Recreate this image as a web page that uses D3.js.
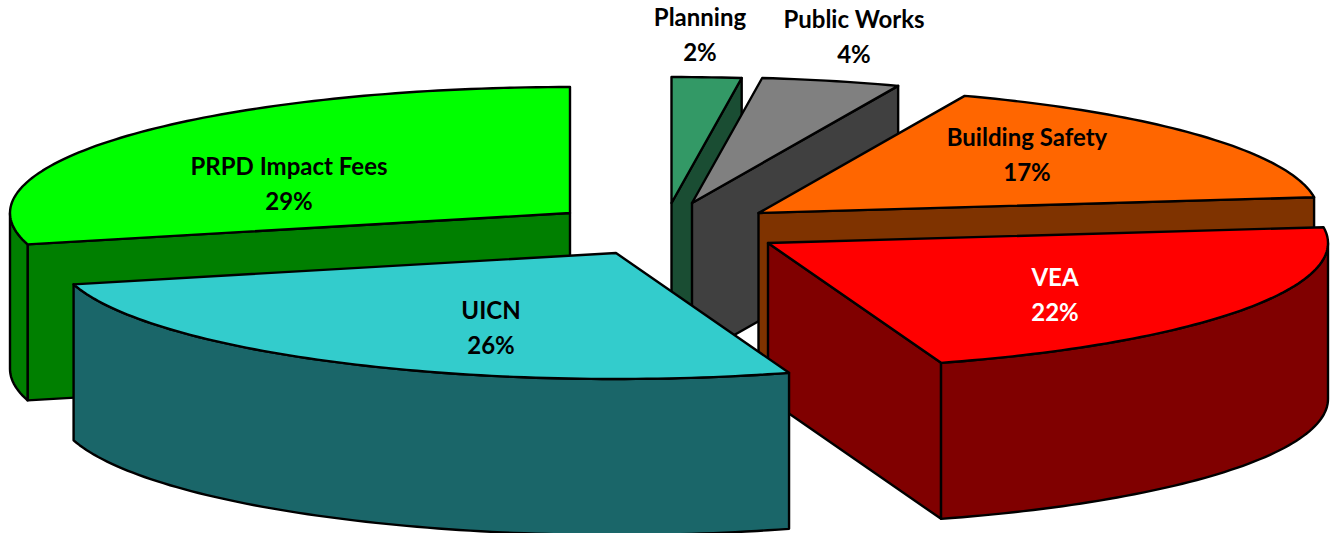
<!DOCTYPE html>
<html>
<head>
<meta charset="utf-8">
<script src="https://cdn.jsdelivr.net/npm/d3@7"></script>
<style>
  html, body { margin: 0; padding: 0; background: #fff; }
  svg { display: block; }
  text { font-family: Lato, "Open Sans", sans-serif; font-weight: 700; font-size: 24px; }
</style>
</head>
<body>
<svg id="chart" width="1333" height="533"></svg>
<script>
// Budget shares, in clockwise order from twelve o'clock
const categories = ["Planning", "Public Works", "Building Safety", "VEA", "UICN", "PRPD Impact Fees"];
const shares = [2, 4, 17, 22, 26, 29];

const topColors = ["#339966", "#808080", "#FF6600", "#FF0000", "#33CCCC", "#00FF00"];
const sideColors = ["#1A4D33", "#404040", "#7F3300", "#800000", "#1A6669", "#007F00"];
const labelColors = ["#000", "#000", "#000", "#fff", "#000", "#000"];

// Where each exploded wedge has its point on the page, and where its label sits
const apexX = [671.5, 692, 758.5, 768, 616, 570];
const apexY = [203, 203, 213, 243, 253, 213];
const labelX = [700, 854, 1027, 1055, 491, 289];
const labelY = [26, 28, 146, 286, 319, 175];

// Painting order: rear wedges first, front wedges over them
const paintOrder = [0, 1, 2, 5, 3, 4];

const RX = 560, RY = 126, DEPTH = 156;
const LINE_GAP = 34.5;

const svg = d3.select("#chart");

const wedges = d3.pie().sort(null).value(d => d)(shares);

const sx = d3.scaleLinear().domain([-1, 1]).range([-RX, RX]);
const sy = d3.scaleLinear().domain([-1, 1]).range([-RY, RY]);
const line = d3.line();

const rimPoint = (i, a, drop = 0) => [
  apexX[i] + sx(Math.sin(a)),
  apexY[i] + sy(-Math.cos(a)) + drop
];

function rim(i, a0, a1, drop = 0) {
  const n = Math.max(2, Math.ceil((a1 - a0) / 0.02));
  return d3.range(n + 1).map(k => rimPoint(i, a0 + (a1 - a0) * k / n, drop));
}

const FRONT_START = Math.PI / 2, FRONT_END = Math.PI * 1.5;

function drawFace(points, fill) {
  svg.append("path")
    .attr("d", line(points) + "Z")
    .attr("fill", fill)
    .attr("stroke", "#000")
    .attr("stroke-width", 2.4)
    .attr("stroke-linejoin", "round");
}

function drawRadialWall(i, a) {
  const top = [apexX[i], apexY[i]];
  const outer = rimPoint(i, a);
  drawFace([
    top, outer,
    [outer[0], outer[1] + DEPTH],
    [top[0], top[1] + DEPTH]
  ], sideColors[i]);
}

paintOrder.forEach(i => {
  const { startAngle: a0, endAngle: a1 } = wedges[i];

  // Cut faces that turn towards the viewer
  if (a1 < Math.PI) drawRadialWall(i, a1);
  if (a0 > Math.PI) drawRadialWall(i, a0);

  // Curved outer wall along the front half of the rim
  const f0 = Math.max(a0, FRONT_START), f1 = Math.min(a1, FRONT_END);
  if (f1 > f0) {
    drawFace(rim(i, f0, f1).concat(rim(i, f0, f1, DEPTH).reverse()), sideColors[i]);
  }

  // Top face
  drawFace([[apexX[i], apexY[i]]].concat(rim(i, a0, a1)), topColors[i]);
});

// Two-line labels: category name over its share
categories.forEach((name, i) => {
  const g = svg.append("g").attr("text-anchor", "middle").attr("fill", labelColors[i]);
  g.append("text").attr("x", labelX[i]).attr("y", labelY[i]).text(name);
  g.append("text").attr("x", labelX[i]).attr("y", labelY[i] + LINE_GAP).text(shares[i] + "%");
});
</script>
</body>
</html>
